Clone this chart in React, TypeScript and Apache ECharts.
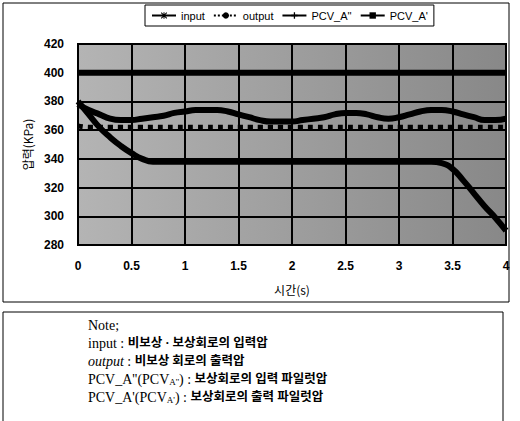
import React, { useEffect, useRef } from "react";
import * as echarts from "echarts";

const timeValues = [0, 0.1, 0.2, 0.3, 0.4, 0.5, 0.6, 0.7, 0.8, 0.9, 1.0, 1.1, 1.2, 1.3, 1.4, 1.5, 1.6, 1.7, 1.8, 1.9, 2.0, 2.1, 2.2, 2.3, 2.4, 2.5, 2.6, 2.7, 2.8, 2.9, 3.0, 3.1, 3.2, 3.3, 3.4, 3.5, 3.6, 3.7, 3.8, 3.9, 4.0];
const inputValues = [400, 400, 400, 400, 400, 400, 400, 400, 400, 400, 400, 400, 400, 400, 400, 400, 400, 400, 400, 400, 400, 400, 400, 400, 400, 400, 400, 400, 400, 400, 400, 400, 400, 400, 400, 400, 400, 400, 400, 400, 400];
const outputValues = [363, 362, 362, 362, 362, 362, 362, 362, 362, 362, 362, 362, 362, 362, 362, 362, 362, 362, 362, 362, 362, 362, 362, 362, 362, 362, 362, 362, 362, 362, 362, 362, 362, 362, 362, 362, 362, 362, 362, 362, 362];
const pcvA2Values = [378, 374, 371, 368, 367, 367, 368, 369, 370, 372, 373, 374, 374, 374, 373, 371, 369, 367, 366, 366, 366, 367, 368, 369, 371, 372, 372, 371, 369, 368, 369, 371, 373, 374, 374, 373, 371, 369, 367, 367, 368];
const pcvA1Values = [380, 371, 362, 355, 349, 344, 340, 338, 338, 338, 338, 338, 338, 338, 338, 338, 338, 338, 338, 338, 338, 338, 338, 338, 338, 338, 338, 338, 338, 338, 338, 338, 338, 338, 337, 333, 325, 316, 307, 299, 290];
const seriesNames = ["input", "output", "PCV_A''", "PCV_A'"];
const xTicks = [0, 0.5, 1, 1.5, 2, 2.5, 3, 3.5, 4];
const yTicks = [280, 300, 320, 340, 360, 380, 400, 420];

const noteTitle = "Note;";
// [main label, subscript, closing, description]
const noteLines = [
  ["input", "", "", "비보상 · 보상회로의 입력압"],
  ["output", "", "", "비보상 회로의 출력압"],
  ["PCV_A''(PCV", "A''", ")", "보상회로의 입력 파일럿압"],
  ["PCV_A'(PCV", "A'", ")", "보상회로의 출력 파일럿압"],
];

const pair = (vals: number[]) => timeValues.map((t, i) => [t, vals[i]]);

const asterisk =
  "path://M4.2,0h1.6v10h-1.6z M0,4.2h10v1.6h-10z M1.2,0.1L9.9,8.8L8.8,9.9L0.1,1.2z M8.8,0.1L9.9,1.2L1.2,9.9L0.1,8.8z";
const plus = "path://M4,0h2v4h4v2h-4v4h-2v-4h-4v-2h4z";

export default function App() {
  const ref = useRef<HTMLDivElement>(null);
  useEffect(() => {
    if (!ref.current) return;
    const chart = echarts.init(ref.current, undefined, { renderer: "svg" });
    const sans = "'Liberation Sans', Arial, sans-serif";
    const serif = "'Liberation Serif', 'Noto Sans CJK KR', serif";
    const symbols = [asterisk, "circle", plus, "rect"];
    const datas = [inputValues, outputValues, pcvA2Values, pcvA1Values];
    const noteY0 = 325;
    const noteStep = 18;
    const buildNote = (head: string, sub: string, close: string, desc: string, i: number) => {
      let s = `{h${i === 1 ? "i" : ""}|${head}}`;
      if (sub) s += `{sub|${sub}}{h|${close}}`;
      s += `{h| : }{t|${desc}}`;
      return s;
    };
    chart.setOption({
      animation: false,
      backgroundColor: "#fff",
      legend: {
        left: 145,
        top: 5,
        padding: [5, 6],
        itemGap: 8,
        itemWidth: 24,
        itemHeight: 8,
        borderColor: "#000",
        borderWidth: 1,
        textStyle: { fontFamily: sans, fontSize: 11, color: "#000" },
        lineStyle: { width: 2 },
        data: seriesNames,
      },
      grid: {
        left: 78,
        right: 14,
        top: 44,
        bottom: 176,
        show: true,
        borderColor: "#000",
        borderWidth: 2,
        backgroundColor: new echarts.graphic.LinearGradient(0, 0, 1, 0, [
          { offset: 0, color: "#b4b4b4" },
          { offset: 1, color: "#888888" },
        ]),
      },
      xAxis: {
        type: "value",
        min: 0,
        max: 4,
        interval: 0.5,
        name: "시간(s)",
        nameLocation: "middle",
        nameGap: 38,
        nameTextStyle: { fontFamily: "'Noto Sans CJK KR', sans-serif", fontSize: 12, color: "#000" },
        axisLine: { show: false },
        axisTick: { show: false },
        axisLabel: {
          margin: 15,
          fontFamily: sans,
          fontSize: 12,
          fontWeight: "bold",
          color: "#000",
          formatter: (v: number) => (xTicks.includes(v) ? String(v) : ""),
        },
        splitLine: { show: true, lineStyle: { color: "#000", width: 2 } },
      },
      yAxis: {
        type: "value",
        min: 280,
        max: 420,
        interval: 20,
        name: "압력(KPa)",
        nameLocation: "middle",
        nameGap: 42,
        nameRotate: 90,
        nameTextStyle: { fontFamily: "'Noto Sans CJK KR', sans-serif", fontSize: 12, color: "#000" },
        axisLine: { show: false },
        axisTick: { show: false },
        axisLabel: {
          margin: 14,
          fontFamily: sans,
          fontSize: 12,
          fontWeight: "bold",
          color: "#000",
          formatter: (v: number) => (yTicks.includes(v) ? String(v) : ""),
        },
        splitLine: { show: true, lineStyle: { color: "#000", width: 2 } },
      },
      series: seriesNames.map((name, i) => ({
        name,
        type: "line",
        data: pair(datas[i]),
        symbol: symbols[i],
        showSymbol: false,
        smooth: true,
        color: "#000",
        lineStyle: { color: "#000", width: i === 1 ? 5 : 6, type: i === 1 ? "dotted" : "solid" },
        itemStyle: { color: "#000" },
      })),
      graphic: [
        {
          type: "rect",
          shape: { x: 3, y: 3, width: 506, height: 299 },
          style: { fill: "none", stroke: "#000", lineWidth: 1 },
          silent: true,
        },
        {
          type: "rect",
          shape: { x: 3, y: 312, width: 500, height: 130 },
          style: { fill: "none", stroke: "#000", lineWidth: 1 },
          silent: true,
        },
        {
          type: "text",
          x: 88,
          y: noteY0,
          style: { text: noteTitle, font: `14px ${serif}`, fill: "#000", verticalAlign: "middle" },
        },
        ...noteLines.map(([head, sub, close, desc], i) => ({
          type: "text",
          x: 88,
          y: noteY0 + noteStep * (i + 1),
          style: {
            text: buildNote(head, sub, close, desc, i),
            verticalAlign: "middle",
            fill: "#000",
            rich: {
              h: { fontFamily: serif, fontSize: 14, fill: "#000" },
              hi: { fontFamily: serif, fontSize: 14, fontStyle: "italic", fill: "#000" },
              sub: { fontFamily: serif, fontSize: 9, fill: "#000", verticalAlign: "bottom", padding: [4, 0, 0, 0] },
              t: { fontFamily: serif, fontSize: 12.5, fontWeight: "bold", fill: "#000" },
            },
          },
        })),
      ],
    });
    return () => chart.dispose();
  }, []);
  return (
    <div
      ref={ref}
      style={{ position: "fixed", left: 0, top: 0, width: 520, height: 421, background: "#fff" }}
    />
  );
}
